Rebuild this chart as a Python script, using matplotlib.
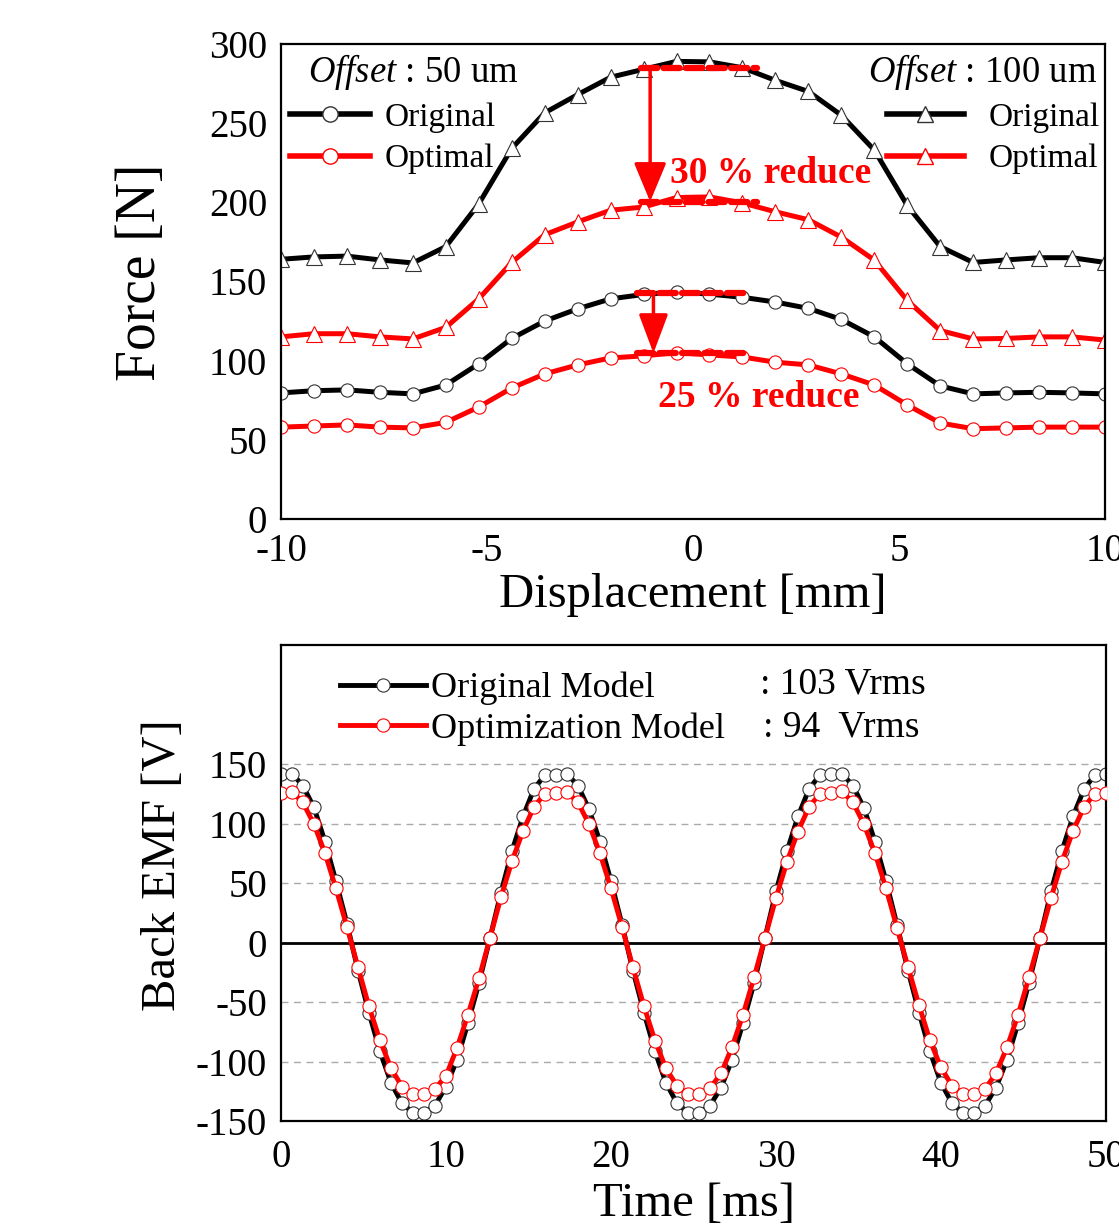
import numpy as np
import matplotlib
matplotlib.use("Agg")
import matplotlib.pyplot as plt
from matplotlib.lines import Line2D

plt.rcParams["font.family"] = ["Liberation Serif", "DejaVu Serif"]
plt.rcParams["mathtext.fontset"] = "custom"
plt.rcParams["mathtext.rm"] = "Liberation Serif"
plt.rcParams["mathtext.it"] = "Liberation Serif:italic"
plt.rcParams["axes.unicode_minus"] = False

# ---- top: force vs displacement ----
disp = [-10.0, -9.2, -8.4, -7.6, -6.8, -6.0, -5.2, -4.4, -3.6, -2.8, -2.0, -1.2, -0.4,
        0.4, 1.2, 2.0, 2.8, 3.6, 4.4, 5.2, 6.0, 6.8, 7.6, 8.4, 9.2, 10.0]
orig_100 = [164, 165.5, 166, 163.6, 161.7, 172, 199, 234, 256.5, 268, 279, 284, 289,
            288.7, 285, 277, 270, 255, 233, 198, 172, 162, 163.6, 165, 165, 162]
opt_100 = [115, 117, 117, 115, 113.7, 121, 139, 162, 179.5, 187.6, 195, 197, 203,
           203.4, 199.6, 194, 189, 178, 163.5, 138, 119, 113.7, 114, 115, 115, 113]
orig_50 = [79.6, 81, 81.5, 80, 79, 84.6, 98, 114, 125, 132.7, 139, 141.8, 143.4,
           142, 140, 137, 133, 126, 115, 98, 84, 79, 79.6, 80, 79.6, 79]
opt_50 = [58, 58.7, 59.4, 58, 57.5, 61, 70.7, 82.7, 91.6, 97.3, 101.7, 103, 105,
          103.6, 102.3, 99, 97.3, 91.6, 84.6, 72, 60.6, 57, 57.5, 58, 58, 58]

# reduction guides (x range, levels) and arrow positions
guide_100 = (-1.25, 1.55, 284.7, 200.4)
guide_50 = (-1.37, 1.34, 142.6, 104.7)
arrow_100_x = -1.04
arrow_50_x = -0.96

# ---- bottom: back EMF vs time ----
t_ms = [0.0, 0.67, 1.33, 2.0, 2.67, 3.33, 4.0, 4.67, 5.33, 6.0, 6.67, 7.33, 8.0, 8.67,
        9.33, 10.0, 10.67, 11.33, 12.0, 12.67, 13.33, 14.0, 14.67, 15.33, 16.0, 16.67,
        17.33, 18.0, 18.67, 19.33, 20.0, 20.67, 21.33, 22.0, 22.67, 23.33, 24.0, 24.67,
        25.33, 26.0, 26.67, 27.33, 28.0, 28.67, 29.33, 30.0, 30.67, 31.33, 32.0, 32.67,
        33.33, 34.0, 34.67, 35.33, 36.0, 36.67, 37.33, 38.0, 38.67, 39.33, 40.0, 40.67,
        41.33, 42.0, 42.67, 43.33, 44.0, 44.67, 45.33, 46.0, 46.67, 47.33, 48.0, 48.67,
        49.33, 50.0]
emf_orig = [142, 142, 131.7, 113.5, 84.8, 51.7, 16, -23.6, -59, -91.5, -118, -135, -143,
            -143, -137, -121, -98.6, -67.7, -34, 4, 42, 77, 106, 129, 141, 141, 142,
            131.7, 112, 84.8, 51.7, 15, -23.6, -59, -91.5, -118, -135, -143, -143, -137,
            -122, -98.6, -67.7, -34, 4, 43, 77, 106, 129, 141, 142, 142, 131.7, 113,
            84.8, 51.7, 15, -23.6, -59, -91.5, -118, -135, -143, -143, -137, -122,
            -98.6, -67.7, -34, 4, 43, 77, 106, 129, 141, 142]
emf_opt = [126, 126.6, 117.7, 99.4, 75, 45.5, 13, -20.8, -53.6, -82.3, -105.6, -121,
           -127.5, -127.5, -123, -112, -88.5, -60.7, -30, 4, 38, 68.5, 93.8, 114, 125.2,
           126, 126.6, 117.7, 99.4, 75, 45.5, 13, -20.8, -53.6, -82.6, -105.6, -120.5,
           -127.5, -127.5, -122.4, -110, -88, -60.7, -29.2, 3.9, 37.6, 68, 93.2, 114,
           125.2, 126, 127, 117.7, 99.4, 75, 45.5, 12.4, -20.5, -52.8, -82.3, -105,
           -120.5, -127.5, -127.5, -123, -110, -88, -60.7, -29.2, 3.9, 37.6, 68, 93.8,
           114, 125.2, 126]

fig = plt.figure(figsize=(11.19, 12.28), dpi=100)
ax1 = fig.add_axes([0.2511, 0.5774, 0.7364, 0.3868])
ax2 = fig.add_axes([0.2511, 0.0871, 0.7373, 0.3876])

BLK = "black"
RED = "#ff0000"
lw = 3.6

# top panel
ax1.plot(disp, orig_100, "-^", color=BLK, lw=lw, ms=11.5, mfc="white", mec="#333333", mew=0.8)
ax1.plot(disp, opt_100, "-^", color=RED, lw=lw, ms=11.5, mfc="white", mec=RED, mew=0.8)
ax1.plot(disp, orig_50, "-o", color=BLK, lw=lw, ms=9.5, mfc="white", mec="#333333", mew=0.8)
ax1.plot(disp, opt_50, "-o", color=RED, lw=lw, ms=9.5, mfc="white", mec=RED, mew=0.8)

for x0, x1, hi, lo in (guide_100, guide_50):
    ax1.plot([x0, x1], [hi, hi], "--", color=RED, lw=4.5, dashes=(2.6, 1.0),
             dash_capstyle="round", zorder=5)
    ax1.plot([x0, x1], [lo, lo], "--", color=RED, lw=4.5, dashes=(2.6, 1.0),
             dash_capstyle="round", zorder=5)

ax1.annotate("", xy=(arrow_100_x, guide_100[3]), xytext=(arrow_100_x, guide_100[2]),
             arrowprops=dict(arrowstyle="-|>,head_length=2.4,head_width=1.0", color=RED,
                             lw=2.5, shrinkA=0, shrinkB=0, mutation_scale=10), zorder=6)
ax1.annotate("", xy=(arrow_50_x, guide_50[3]), xytext=(arrow_50_x, guide_50[2]),
             arrowprops=dict(arrowstyle="-|>,head_length=2.4,head_width=0.9", color=RED,
                             lw=2.5, shrinkA=0, shrinkB=0, mutation_scale=10), zorder=6)
ax1.text(-0.56, 218.5, "30 % reduce", color=RED, fontsize=27, fontweight="bold",
         ha="left", va="center")
ax1.text(-0.85, 77, "25 % reduce", color=RED, fontsize=27, fontweight="bold",
         ha="left", va="center")

ax1.set_xlim(-10, 10)
ax1.set_ylim(0, 300)
ax1.set_xticks([-10, -5, 0, 5, 10])
ax1.set_yticks([0, 50, 100, 150, 200, 250, 300])
ax1.set_xlabel("Displacement [mm]", fontsize=35, labelpad=2)
ax1.set_ylabel("Force [N]", fontsize=40, labelpad=30)
ax1.yaxis.label.set_y(0.52)

h50 = [Line2D([], [], color=BLK, lw=4, marker="o", ms=11, mfc="white", mec="#333333"),
       Line2D([], [], color=RED, lw=4, marker="o", ms=11, mfc="white", mec=RED)]
h100 = [Line2D([], [], color=BLK, lw=4, marker="^", ms=12, mfc="white", mec="#333333"),
        Line2D([], [], color=RED, lw=4, marker="^", ms=12, mfc="white", mec=RED)]
leg1 = ax1.legend(h50, ["Original", "Optimal"], loc="upper left", bbox_to_anchor=(0.011, 0.877),
                  frameon=False, fontsize=24, handlelength=2.4, handletextpad=0.45,
                  labelspacing=0.33, borderpad=0, borderaxespad=0)
ax1.add_artist(leg1)
ax1.legend(h100, ["Original", "Optimal"], loc="upper left", bbox_to_anchor=(0.7355, 0.877),
           frameon=False, fontsize=24, handlelength=2.3, handletextpad=0.75,
           labelspacing=0.33, borderpad=0, borderaxespad=0)
ax1.text(0.033, 0.941, r"$\mathit{Offset}$ : 50 um", transform=ax1.transAxes,
         fontsize=26.5, ha="left", va="center")
ax1.text(0.99, 0.941, r"$\mathit{Offset}$ : 100 um", transform=ax1.transAxes,
         fontsize=26.5, ha="right", va="center")

# bottom panel
for yv in [-100, -50, 50, 100, 150]:
    ax2.axhline(yv, color="#aaaaaa", lw=1, ls=(0, (5, 4)), zorder=0)
ax2.axhline(0, color="black", lw=2, zorder=1)
ax2.plot(t_ms, emf_orig, "-o", color=BLK, lw=3.5, ms=9.5, mfc="white", mec="#333333",
         mew=0.8, zorder=2, label="Original Model")
ax2.plot(t_ms, emf_opt, "-o", color=RED, lw=3.5, ms=9.5, mfc="white", mec=RED,
         mew=0.8, zorder=3, label="Optimization Model")
ax2.set_xlim(0, 50)
ax2.set_ylim(-150, 250)
ax2.set_xticks([0, 10, 20, 30, 40, 50])
ax2.set_yticks([-150, -100, -50, 0, 50, 100, 150])
ax2.set_xlabel("Time [ms]", fontsize=35, labelpad=4)
ax2.set_ylabel("Back EMF [V]", fontsize=35, labelpad=8)
ax2.yaxis.label.set_y(0.538)
ax2.legend(loc="upper left", bbox_to_anchor=(0.071, 0.944), frameon=False, fontsize=26,
           handlelength=2.4, handletextpad=0.12, labelspacing=0.2, borderpad=0,
           borderaxespad=0)
ax2.text(29.0, 217, ": 103 Vrms", fontsize=27, ha="left", va="center")
ax2.text(29.2, 181, ": 94  Vrms", fontsize=27, ha="left", va="center")

for ax in (ax1, ax2):
    for s in ax.spines.values():
        s.set_linewidth(1.6)
    ax.tick_params(length=0, labelsize=28, pad=10)
ax2.tick_params(axis="x", pad=13)

fig.savefig("out.png", dpi=100)
